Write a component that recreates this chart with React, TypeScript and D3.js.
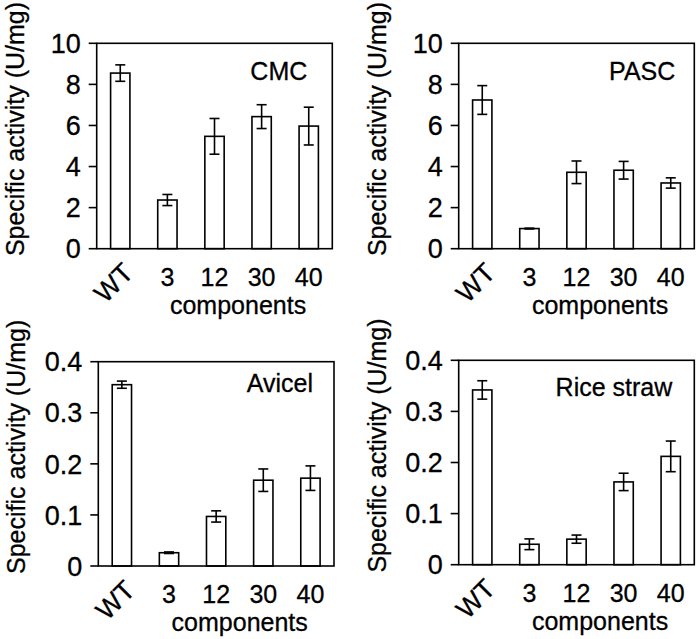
import React from "react";
import * as d3 from "d3";

const categories = ["WT", "3", "12", "30", "40"];

const cmcValues = [8.55, 2.37, 5.47, 6.43, 5.97];
const cmcErrors = [0.4, 0.27, 0.87, 0.58, 0.92];
const pascValues = [7.24, 0.98, 3.72, 3.82, 3.2];
const pascErrors = [0.7, 0.02, 0.55, 0.43, 0.25];
const avicelValues = [0.355, 0.026, 0.097, 0.168, 0.172];
const avicelErrors = [0.007, 0.0015, 0.011, 0.022, 0.024];
const riceValues = [0.342, 0.04, 0.05, 0.162, 0.212];
const riceErrors = [0.018, 0.0105, 0.008, 0.017, 0.03];

const ticksTop = [0, 2, 4, 6, 8, 10];
const ticksBottom = [0, 0.1, 0.2, 0.3, 0.4];

const yLabel = "Specific activity (U/mg)";
const xLabel = "components";

const FONT = "'Liberation Sans', Arial, Helvetica, sans-serif";
const FS = 25;
const FS_TICK = 27;
const TXT_STROKE = 0.3;

type PanelProps = {
  left: number;
  right: number;
  top: number;
  bottom: number;
  values: number[];
  errors: number[];
  ticks: number[];
  maxY: number;
  title: string;
  titleInsetX: number;
  titleDy: number;
};

function Panel(p: PanelProps) {
  const x = d3
    .scaleBand<string>()
    .domain(categories)
    .range([p.left, p.right])
    .paddingInner(0.59)
    .paddingOuter(0.295);
  const y = d3.scaleLinear().domain([0, p.maxY]).range([p.bottom, p.top]);
  const bw = x.bandwidth();
  const cap = 5;
  const sw = 1.6;
  const numCenters = categories.slice(1).map((c) => (x(c) as number) + bw / 2);
  const compX = (numCenters[0] + numCenters[numCenters.length - 1]) / 2;
  const txt = { fontFamily: FONT, stroke: "#000", strokeWidth: TXT_STROKE } as const;
  return (
    <g>
      {categories.map((c, i) => {
        const x0 = x(c) as number;
        const yv = y(p.values[i]);
        return (
          <rect
            key={"b" + c}
            x={x0}
            y={yv}
            width={bw}
            height={p.bottom - yv}
            fill="#fff"
            stroke="#000"
            strokeWidth={sw}
          />
        );
      })}
      {categories.map((c, i) => {
        const cx = (x(c) as number) + bw / 2;
        const yt = y(p.values[i] + p.errors[i]);
        const yb = y(p.values[i] - p.errors[i]);
        return (
          <g key={"e" + c} stroke="#000" strokeWidth={sw}>
            <line x1={cx} x2={cx} y1={yt} y2={yb} />
            <line x1={cx - cap} x2={cx + cap} y1={yt} y2={yt} />
            <line x1={cx - cap} x2={cx + cap} y1={yb} y2={yb} />
          </g>
        );
      })}
      <rect
        x={p.left}
        y={p.top}
        width={p.right - p.left}
        height={p.bottom - p.top}
        fill="none"
        stroke="#000"
        strokeWidth={sw}
      />
      {p.ticks.map((t) => (
        <g key={"t" + t}>
          <line
            x1={p.left - 8}
            x2={p.left}
            y1={y(t)}
            y2={y(t)}
            stroke="#000"
            strokeWidth={sw}
          />
          <text
            x={p.left - 16}
            y={y(t)}
            dy="0.36em"
            textAnchor="end"
            fontSize={FS_TICK}
            {...txt}
          >
            {String(t)}
          </text>
        </g>
      ))}
      {categories.map((c, i) => {
        const cx = (x(c) as number) + bw / 2;
        if (i === 0) {
          return (
            <text
              key={"x" + c}
              transform={`translate(${cx + 1},${p.bottom + 12}) rotate(-45)`}
              textAnchor="end"
              dy="0.72em"
              fontSize={27}
              {...txt}
            >
              {c}
            </text>
          );
        }
        return (
          <text
            key={"x" + c}
            x={cx}
            y={p.bottom + 37}
            textAnchor="middle"
            fontSize={FS}
            {...txt}
          >
            {c}
          </text>
        );
      })}
      <text x={compX} y={p.bottom + 65} textAnchor="middle" fontSize={FS} {...txt}>
        {xLabel}
      </text>
      <text
        transform={`translate(${p.left - 73},${p.top + (p.bottom - p.top) / 2 - 17}) rotate(-90)`}
        textAnchor="middle"
        fontSize={FS}
        {...txt}
      >
        {yLabel}
      </text>
      <text
        x={p.right - p.titleInsetX}
        y={p.top + p.titleDy}
        textAnchor="end"
        fontSize={FS}
        {...txt}
      >
        {p.title}
      </text>
    </g>
  );
}

export default function App() {
  return (
    <svg
      width={697}
      height={639}
      style={{ position: "absolute", left: 0, top: 0, background: "#fff" }}
    >
      <rect x={0} y={0} width={697} height={639} fill="#fff" />
      <Panel
        left={96.7}
        right={332.3}
        top={43.3}
        bottom={248.7}
        values={cmcValues}
        errors={cmcErrors}
        ticks={ticksTop}
        maxY={10}
        title="CMC"
        titleInsetX={25}
        titleDy={37}
      />
      <Panel
        left={458.7}
        right={694.3}
        top={43.3}
        bottom={248.7}
        values={pascValues}
        errors={pascErrors}
        ticks={ticksTop}
        maxY={10}
        title="PASC"
        titleInsetX={19}
        titleDy={37}
      />
      <Panel
        left={98.3}
        right={334}
        top={361.7}
        bottom={566}
        values={avicelValues}
        errors={avicelErrors}
        ticks={ticksBottom}
        maxY={0.4}
        title="Avicel"
        titleInsetX={21}
        titleDy={30}
      />
      <Panel
        left={458.7}
        right={694.3}
        top={360.3}
        bottom={564.7}
        values={riceValues}
        errors={riceErrors}
        ticks={ticksBottom}
        maxY={0.4}
        title="Rice straw"
        titleInsetX={22}
        titleDy={36}
      />
    </svg>
  );
}
